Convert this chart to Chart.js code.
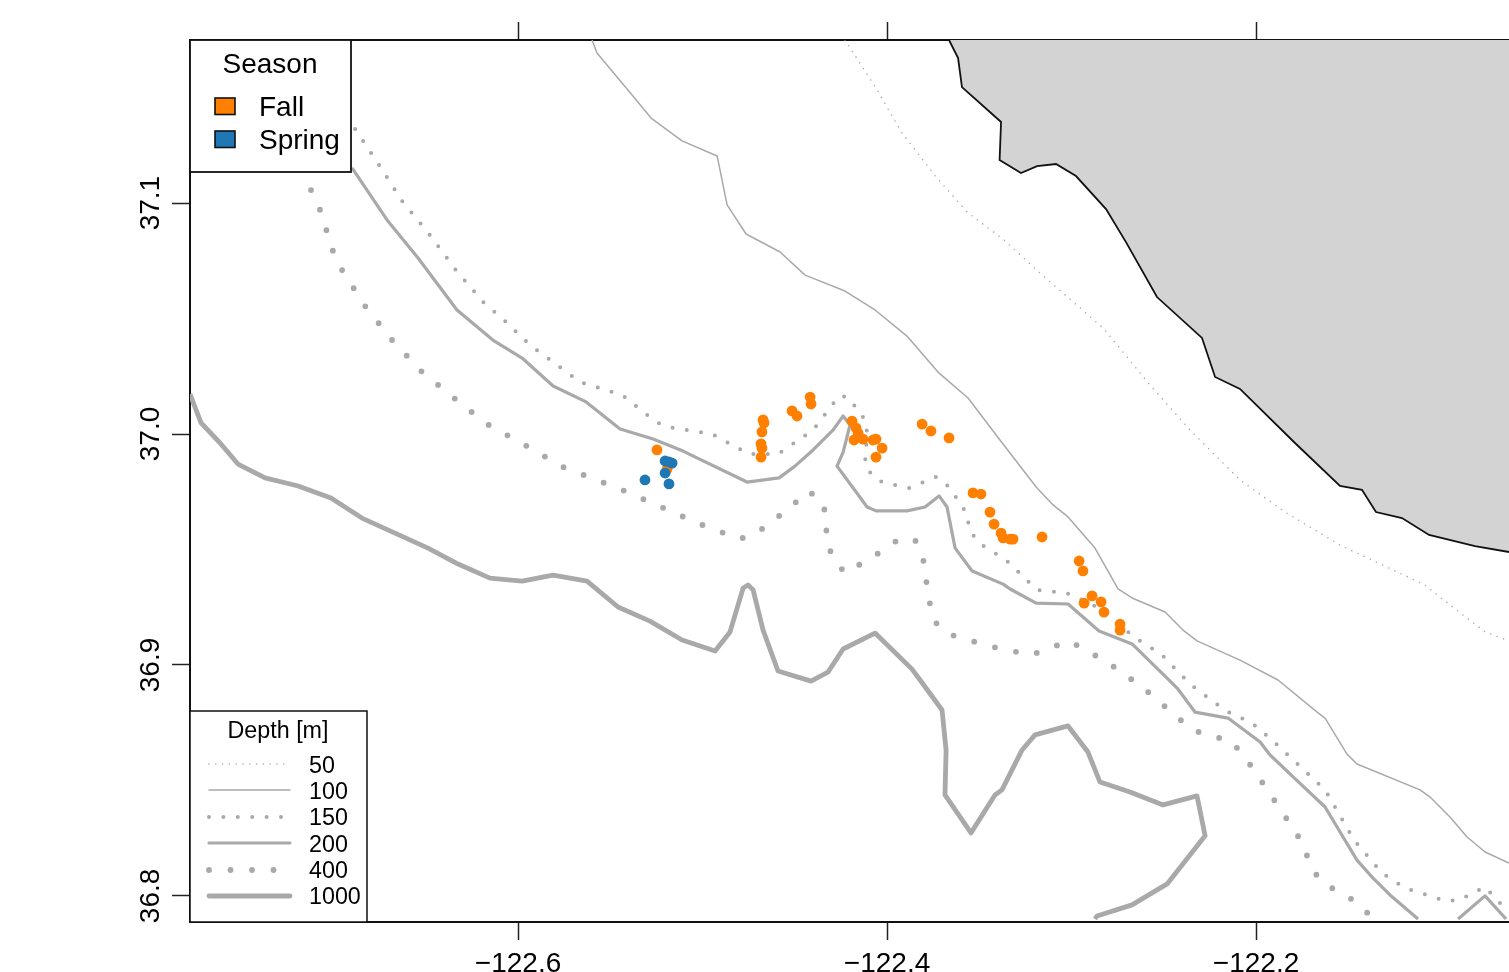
<!DOCTYPE html>
<html lang="en">

<head>
  <meta charset="UTF-8" />
  <title>Season and depth map</title>
  <script src="https://cdn.jsdelivr.net/npm/chart.js"></script>
  <style>
    * {
      box-sizing: border-box;
      margin: 0;
      padding: 0
    }

    body {
      background: #fff
    }

    canvas {
      display: block
    }
  </style>
</head>

<body>
  <canvas id="mapa" width="1509" height="972"></canvas>
  <script>
    const lonTicks = [-122.6, -122.4, -122.2];
    const latTicks = [36.8, 36.9, 37.0, 37.1];
    const lonRange = [-122.7778, -122.0629];
    const latRange = [36.7887, 37.1706];

    const seasons = ['Fall', 'Spring'];
    const depths = ['50', '100', '150', '200', '400', '1000'];

    const coastLon = [-122.3664, -122.3615, -122.3594, -122.3382, -122.3390, -122.3274, -122.3187, -122.3084, -122.2976, -122.2813, -122.2705, -122.2537, -122.2293, -122.2222, -122.2087, -122.1789, -122.1545, -122.1426, -122.1350, -122.1209, -122.1062, -122.0813, -122.0629];
    const coastLat = [37.1706, 37.1628, 37.1502, 37.1351, 37.1186, 37.1130, 37.1160, 37.1169, 37.1117, 37.0974, 37.0831, 37.0593, 37.0416, 37.0247, 37.0195, 36.9961, 36.9775, 36.9758, 36.9662, 36.9636, 36.9563, 36.9515, 36.9489];

    const d50Lon = [-122.4228, -122.4054, -122.3919, -122.3734, -122.3566, -122.3366, -122.3171, -122.3003, -122.2829, -122.2575, -122.2358, -122.2087, -122.1843, -122.1545, -122.1084, -122.0949, -122.0759, -122.0629];
    const d50Lat = [37.1706, 37.1490, 37.1303, 37.1113, 37.0961, 37.0840, 37.0697, 37.0580, 37.0459, 37.0212, 37.0017, 36.9801, 36.9662, 36.9519, 36.9346, 36.9260, 36.9143, 36.9104];

    const d100Lon = [-122.5599, -122.5572, -122.5382, -122.5279, -122.5111, -122.4921, -122.4867, -122.4764, -122.4580, -122.4444, -122.4228, -122.4065, -122.3892, -122.3724, -122.3561, -122.3388, -122.3263, -122.3187, -122.3100, -122.3019, -122.2873, -122.2748, -122.2672, -122.2493, -122.2396, -122.2320, -122.2087, -122.1881, -122.1669, -122.1626, -122.1507, -122.1453, -122.1111, -122.1057, -122.0949, -122.0856, -122.0759, -122.0629];
    const d100Lat = [37.1706, 37.1650, 37.1468, 37.1368, 37.1269, 37.1204, 37.0992, 37.0866, 37.0788, 37.0688, 37.0619, 37.0537, 37.0424, 37.0268, 37.0156, 36.9974, 36.9844, 36.9766, 36.9693, 36.9641, 36.9506, 36.9329, 36.9290, 36.9229, 36.9151, 36.9104, 36.9021, 36.8935, 36.8796, 36.8770, 36.8614, 36.8571, 36.8459, 36.8428, 36.8342, 36.8255, 36.8190, 36.8142];

    const d150Lon = [-122.6883, -122.6753, -122.6629, -122.6482, -122.6341, -122.6190, -122.6070, -122.5935, -122.5664, -122.5436, -122.5252, -122.5182, -122.4949, -122.4748, -122.4591, -122.4401, -122.4260, -122.4211, -122.4119, -122.4108, -122.4119, -122.4087, -122.4027, -122.3881, -122.3734, -122.3680, -122.3588, -122.3539, -122.3485, -122.3355, -122.3187, -122.3030, -122.2889, -122.2645, -122.2515, -122.2352, -122.2163, -122.2022, -122.1908, -122.1626, -122.1469, -122.1317, -122.1193, -122.0970, -122.0900, -122.0759, -122.0629];
    const d150Lat = [37.1321, 37.1165, 37.1009, 37.0866, 37.0714, 37.0572, 37.0489, 37.0385, 37.0225, 37.0169, 37.0052, 37.0030, 37.0000, 36.9913, 36.9913, 37.0017, 37.0165, 37.0160, 37.0061, 37.0004, 36.9879, 36.9827, 36.9792, 36.9766, 36.9814, 36.9784, 36.9684, 36.9567, 36.9519, 36.9454, 36.9325, 36.9312, 36.9264, 36.9112, 36.9047, 36.8913, 36.8801, 36.8749, 36.8671, 36.8459, 36.8242, 36.8099, 36.8034, 36.7978, 36.7982, 36.8039, 36.7926];

    // null = the contour leaves the map and comes back
    const d200Lon = [-122.6900, -122.6710, -122.6542, -122.6331, -122.6130, -122.5978, -122.5810, -122.5631, -122.5447, -122.5268, -122.5106, -122.4759, -122.4585, -122.4499, -122.4401, -122.4293, -122.4238, -122.4201, -122.4217, -122.4238, -122.4271, -122.4108, -122.4060, -122.3892, -122.3794, -122.3718, -122.3675, -122.3631, -122.3539, -122.3371, -122.3333, -122.3192, -122.3019, -122.2851, -122.2672, -122.2499, -122.2428, -122.2331, -122.2152, -122.1978, -122.1924, -122.1799, -122.1626, -122.1453, -122.1366, -122.1274, -122.1122, null, -122.0905, -122.0759, -122.0645];
    const d200Lat = [37.1152, 37.0927, 37.0762, 37.0537, 37.0403, 37.0329, 37.0208, 37.0139, 37.0022, 36.9978, 36.9926, 36.9792, 36.9810, 36.9861, 36.9931, 37.0017, 37.0078, 37.0039, 36.9987, 36.9922, 36.9861, 36.9684, 36.9667, 36.9667, 36.9684, 36.9732, 36.9684, 36.9506, 36.9407, 36.9350, 36.9329, 36.9268, 36.9264, 36.9147, 36.9091, 36.8956, 36.8900, 36.8796, 36.8770, 36.8666, 36.8610, 36.8515, 36.8385, 36.8155, 36.8077, 36.8004, 36.7900, null, 36.7900, 36.8000, 36.7900];

    const d400Lon = [-122.7122, -122.7073, -122.7003, -122.6954, -122.6829, -122.6683, -122.6526, -122.6347, -122.6168, -122.5962, -122.5756, -122.5436, -122.5225, -122.5014, -122.4797, -122.4699, -122.4607, -122.4515, -122.4434, -122.4363, -122.4325, -122.4331, -122.4293, -122.4228, -122.4125, -122.4027, -122.3935, -122.3848, -122.3805, -122.3789, -122.3772, -122.3745, -122.3669, -122.3447, -122.3220, -122.3014, -122.2808, -122.2618, -122.2434, -122.2352, -122.2255, -122.2141, -122.2065, -122.1935, -122.1805, -122.1745, -122.1707, -122.1648, -122.1447, -122.1366];
    const d400Lat = [37.1056, 37.0970, 37.0792, 37.0710, 37.0554, 37.0407, 37.0273, 37.0156, 37.0043, 36.9952, 36.9857, 36.9758, 36.9684, 36.9610, 36.9545, 36.9576, 36.9632, 36.9688, 36.9753, 36.9723, 36.9641, 36.9545, 36.9463, 36.9398, 36.9446, 36.9493, 36.9545, 36.9541, 36.9463, 36.9372, 36.9281, 36.9190, 36.9134, 36.9082, 36.9043, 36.9104, 36.9013, 36.8905, 36.8779, 36.8723, 36.8692, 36.8675, 36.8606, 36.8455, 36.8299, 36.8225, 36.8134, 36.8061, 36.7970, 36.7900];

    const d1000Lon = [-122.7778, -122.7718, -122.7615, -122.7518, -122.7371, -122.7192, -122.7014, -122.6846, -122.6667, -122.6488, -122.6325, -122.6152, -122.5978, -122.5810, -122.5626, -122.5458, -122.5285, -122.5111, -122.4932, -122.4851, -122.4780, -122.4753, -122.4726, -122.4672, -122.4591, -122.4412, -122.4320, -122.4238, -122.4065, -122.3865, -122.3821, -122.3702, -122.3680, -122.3686, -122.3545, -122.3415, -122.3377, -122.3268, -122.3198, -122.3019, -122.2911, -122.2846, -122.2683, -122.2504, -122.2320, -122.2276, -122.2482, -122.2672, -122.2862, -122.2873];
    const d1000Lat = [37.0173, 37.0048, 36.9961, 36.9870, 36.9810, 36.9775, 36.9723, 36.9636, 36.9571, 36.9506, 36.9437, 36.9376, 36.9363, 36.9389, 36.9363, 36.9251, 36.9190, 36.9108, 36.9060, 36.9143, 36.9333, 36.9346, 36.9325, 36.9151, 36.8974, 36.8930, 36.8969, 36.9069, 36.9138, 36.8982, 36.8935, 36.8805, 36.8632, 36.8437, 36.8273, 36.8437, 36.8459, 36.8632, 36.8697, 36.8736, 36.8623, 36.8493, 36.8450, 36.8394, 36.8433, 36.8260, 36.8052, 36.7961, 36.7913, 36.7900];

    const fallLon = [-122.5247, -122.5192, -122.4672, -122.4667, -122.4678, -122.4683, -122.4678, -122.4683, -122.4515, -122.4488, -122.4417, -122.4412, -122.4190, -122.4168, -122.4157, -122.4179, -122.4130, -122.4076, -122.4060, -122.4027, -122.4060, -122.3810, -122.3762, -122.3664, -122.3534, -122.3491, -122.3442, -122.3420, -122.3382, -122.3371, -122.3333, -122.3317, -122.3160, -122.2959, -122.2938, -122.2889, -122.2932, -122.2840, -122.2824, -122.2737, -122.2737];
    const fallLat = [36.9931, 36.9848, 37.0061, 37.0048, 37.0009, 36.9957, 36.9939, 36.9900, 37.0100, 37.0078, 37.0160, 37.0130, 37.0056, 37.0026, 37.0004, 36.9974, 36.9978, 36.9974, 36.9978, 36.9939, 36.9900, 37.0043, 37.0013, 36.9983, 36.9745, 36.9740, 36.9662, 36.9610, 36.9571, 36.9550, 36.9545, 36.9545, 36.9554, 36.9450, 36.9407, 36.9299, 36.9268, 36.9273, 36.9229, 36.9177, 36.9151];

    const springLon = [-122.5203, -122.5182, -122.5165, -122.5203, -122.5312, -122.5182];
    const springLat = [36.9883, 36.9879, 36.9874, 36.9831, 36.9801, 36.9784];

    const GRIS = '#a9a9a9';
    const NARANJA = '#ff7f00';
    const AZUL = '#1f78b4';
    const FUENTE = '"Liberation Sans", Arial, sans-serif';

    // line style per depth, same order as depths
    const estilos = [
      { w: 1.6, dash: [0, 6.8] },
      { w: 1.5, dash: [] },
      { w: 4, dash: [0, 14.4] },
      { w: 3.2, dash: [] },
      { w: 5.8, dash: [0, 21.5] },
      { w: 4.8, dash: [] }
    ];

    function puntos(lon, lat) {
      return lon.map((x, i) => ({ x: x, y: lat[i] }));
    }

    function contorno(lon, lat, i) {
      return {
        data: puntos(lon, lat),
        showLine: true,
        spanGaps: false,
        pointRadius: 0,
        borderColor: GRIS,
        borderWidth: estilos[i].w,
        borderDash: estilos[i].dash,
        borderCapStyle: estilos[i].dash.length ? 'round' : 'butt',
        borderJoinStyle: 'round',
        tension: 0,
        order: 5
      };
    }

    function fijarTicks(valores) {
      return scale => { scale.ticks = valores.map(v => ({ value: v })); };
    }

    // the frame has to stay fixed, no extra room for the labels
    function ajustarX(alto) {
      return s => {
        s.height = alto;
        s.paddingLeft = 0;
        s.paddingRight = 0;
      };
    }

    // legends sit on top of the map, like in the original plot
    const leyendas = {
      id: 'leyendas',
      afterDraw(chart) {
        const ctx = chart.ctx;
        ctx.save();

        ctx.fillStyle = '#fff';
        ctx.fillRect(190, 40, 161, 132);
        ctx.strokeStyle = '#111';
        ctx.lineWidth = 1.8;
        ctx.strokeRect(190, 40, 161, 132);

        ctx.fillStyle = '#000';
        ctx.textBaseline = 'middle';
        ctx.textAlign = 'center';
        ctx.font = '28px ' + FUENTE;
        ctx.fillText('Season', 270, 65);
        ctx.textAlign = 'left';
        [NARANJA, AZUL].forEach((c, i) => {
          const y = i === 0 ? 98 : 131;
          ctx.fillStyle = c;
          ctx.fillRect(215, y, 20, 16.5);
          ctx.lineWidth = 1.6;
          ctx.strokeStyle = '#111';
          ctx.strokeRect(215, y, 20, 16.5);
          ctx.fillStyle = '#000';
          ctx.fillText(seasons[i], 259, i === 0 ? 108 : 141);
        });

        ctx.fillStyle = '#fff';
        ctx.fillRect(190, 711, 177, 211);
        ctx.strokeStyle = '#111';
        ctx.lineWidth = 1.5;
        ctx.strokeRect(190, 711, 177, 211);

        ctx.fillStyle = '#000';
        ctx.textAlign = 'center';
        ctx.font = '23.3px ' + FUENTE;
        ctx.fillText('Depth [m]', 278, 732);
        ctx.textAlign = 'left';
        const filas = [764, 790, 817, 843, 870, 896];
        const textos = [767, 793, 819, 846, 872, 898];
        depths.forEach((d, i) => {
          ctx.fillStyle = '#000';
          ctx.fillText(d, 309, textos[i]);
          ctx.beginPath();
          ctx.strokeStyle = GRIS;
          ctx.lineWidth = estilos[i].w;
          ctx.setLineDash(estilos[i].dash);
          ctx.lineCap = 'round';
          ctx.moveTo(209, filas[i]);
          ctx.lineTo(290, filas[i]);
          ctx.stroke();
          ctx.setLineDash([]);
        });
        ctx.restore();
      }
    };

    const ejeX = {
      type: 'linear',
      min: lonRange[0],
      max: lonRange[1],
      afterBuildTicks: fijarTicks(lonTicks),
      grid: { drawOnChartArea: false, tickLength: 18, tickWidth: 1.5, tickColor: '#222' },
      border: { color: '#111', width: 2 }
    };

    new Chart(document.getElementById('mapa'), {
      type: 'scatter',
      data: {
        datasets: [
          { data: puntos(springLon, springLat), pointRadius: 5.4, pointBorderWidth: 0, pointBackgroundColor: AZUL, order: 1 },
          { data: puntos(fallLon, fallLat), pointRadius: 5.4, pointBorderWidth: 0, pointBackgroundColor: NARANJA, order: 2 },
          contorno(d50Lon, d50Lat, 0),
          contorno(d100Lon, d100Lat, 1),
          contorno(d150Lon, d150Lat, 2),
          contorno(d200Lon, d200Lat, 3),
          contorno(d400Lon, d400Lat, 4),
          contorno(d1000Lon, d1000Lat, 5),
          {
            data: puntos(coastLon, coastLat),
            showLine: true,
            pointRadius: 0,
            borderColor: '#111',
            borderWidth: 1.8,
            backgroundColor: '#d3d3d3',
            fill: 'end',
            tension: 0,
            order: 9
          }
        ]
      },
      options: {
        responsive: false,
        animation: false,
        layout: { padding: 0, autoPadding: false },
        plugins: { legend: { display: false }, tooltip: { enabled: false } },
        scales: {
          x: {
            ...ejeX,
            position: 'bottom',
            afterFit: ajustarX(50),
            ticks: {
              color: '#000',
              font: { family: FUENTE, size: 28 },
              padding: 7,
              maxRotation: 0,
              callback: v => '\u2212' + Math.abs(v).toFixed(1)
            }
          },
          xArriba: {
            ...ejeX,
            axis: 'x',
            position: 'top',
            afterFit: ajustarX(40),
            ticks: { display: false }
          },
          y: {
            type: 'linear',
            position: 'left',
            min: latRange[0],
            max: latRange[1],
            afterBuildTicks: fijarTicks(latTicks),
            afterFit: s => {
              s.width = 190;
              s.paddingTop = 0;
              s.paddingBottom = 0;
              // rotated labels sit a bit closer to the axis than Chart.js puts them
              if (!s._labelsMovidos) {
                const original = s._getYAxisLabelAlignment;
                s._getYAxisLabelAlignment = function (tl) {
                  const r = original.call(this, tl);
                  r.x += 7;
                  return r;
                };
                s._labelsMovidos = true;
              }
            },
            grid: { drawOnChartArea: false, tickLength: 18, tickWidth: 1.5, tickColor: '#222' },
            border: { color: '#111', width: 2 },
            ticks: {
              color: '#000',
              font: { family: FUENTE, size: 28 },
              padding: 0,
              minRotation: 90,
              maxRotation: 90,
              crossAlign: 'center',
              callback: v => v.toFixed(1)
            }
          }
        }
      },
      plugins: [leyendas]
    });
  </script>
</body>

</html>
